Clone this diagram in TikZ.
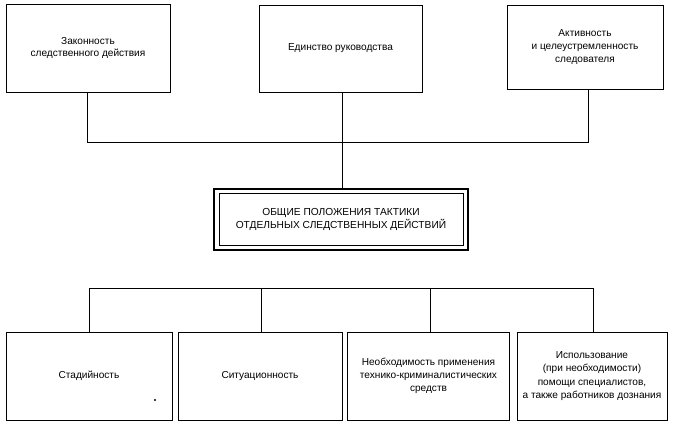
\documentclass[tikz,border=0pt]{standalone}
\usepackage{fontspec}
\setmainfont{Liberation Sans}
\begin{document}
\begin{tikzpicture}[x=1pt,y=-1pt,
  box/.style={draw,line width=1pt,align=center,inner sep=0pt,font=\fontsize{10.1}{13.3}\selectfont},
  conn/.style={line width=0.9pt}]
\useasboundingbox (0,0) rectangle (673,424);
% top boxes
\node[box,minimum width=164pt,minimum height=88pt,font=\fontsize{10.1}{12.3}\selectfont] (t1) at (88,48) {\raisebox{0pt}[\height][\depth]{}Законность\\следственного действия};
\node[box,minimum width=163pt,minimum height=87pt] (t2) at (340.5,48.5) {Единство руководства};
\node[box,minimum width=156pt,minimum height=84pt] (t3) at (585,47) {Активность\\и целеустремленность\\следователя};
% central
\node[draw,line width=2.4pt,minimum width=254pt,minimum height=61pt] (c) at (341,219.5) {};
\node[draw,line width=0.8pt,minimum width=244pt,minimum height=52pt,align=center,inner sep=0pt,font=\fontsize{10.2}{12.5}\selectfont] (ci) at (341,219.5) {ОБЩИЕ ПОЛОЖЕНИЯ ТАКТИКИ\\ОТДЕЛЬНЫХ СЛЕДСТВЕННЫХ ДЕЙСТВИЙ};
% bottom boxes
\node[box,minimum width=166pt,minimum height=88pt] (b1) at (89,376) {Стадийность};
\node[box,minimum width=164pt,minimum height=88pt] (b2) at (260,376) {Ситуационность};
\node[box,minimum width=162pt,minimum height=88pt] (b3) at (428.5,376) {Необходимость применения\\технико-криминалистических\\средств};
\node[box,minimum width=150pt,minimum height=88pt] (b4) at (592,376) {Использование\\(при необходимости)\\помощи специалистов,\\а также работников дознания};
\fill (155,400) circle (1.2pt);
% upper connectors
\coordinate (j1) at (87,142);
\coordinate (j3) at (588,142);
\coordinate (j2) at (342,142);
\draw[conn] (t1.south -| j1) -- (j1) -- (j3) -- (t3.south -| j3);
\draw[conn] (t2.south -| j2) -- (c.north -| j2);
% lower connectors
\coordinate (k1) at (89,288);
\coordinate (k2) at (261,288);
\coordinate (k3) at (430,288);
\coordinate (k4) at (593,288);
\draw[conn] (k1) -- (k4);
\foreach \k/\b in {k1/b1,k2/b2,k3/b3,k4/b4} \draw[conn] (\k) -- (\b.north -| \k);
\end{tikzpicture}
\end{document}
